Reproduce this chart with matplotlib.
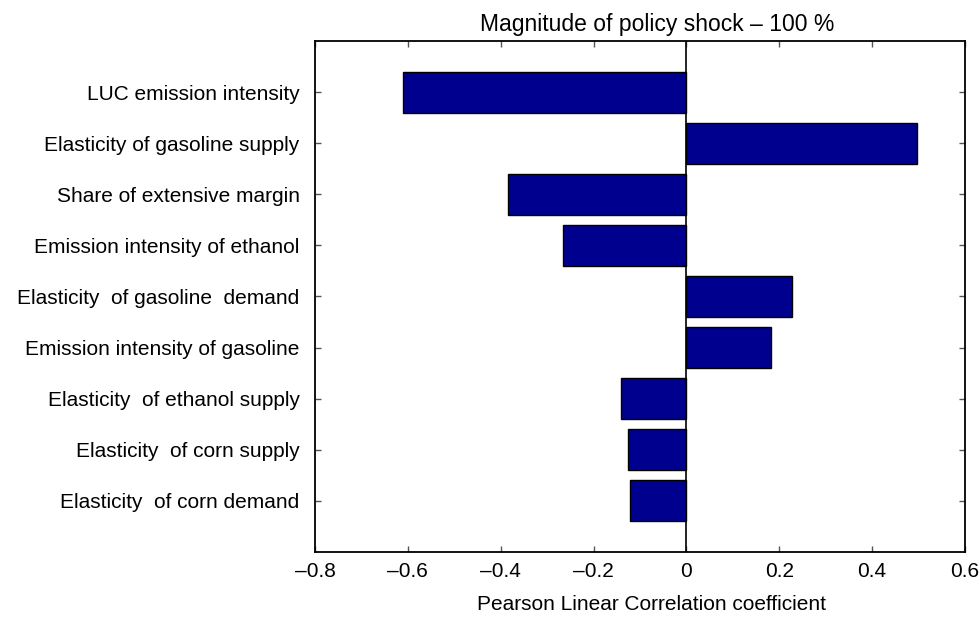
import numpy as np
import matplotlib
matplotlib.use("Agg")
import matplotlib.pyplot as plt

plt.rcParams["font.family"] = ["Liberation Sans", "DejaVu Sans"]

# Data (top to bottom as drawn)
labels = [
    "LUC emission intensity",
    "Elasticity of gasoline supply",
    "Share of extensive margin",
    "Emission intensity of ethanol",
    "Elasticity  of gasoline  demand",
    "Emission intensity of gasoline",
    "Elasticity  of ethanol supply",
    "Elasticity  of corn supply",
    "Elasticity  of corn demand",
]
corr = [-0.611, 0.497, -0.385, -0.265, 0.228, 0.183, -0.141, -0.126, -0.121]

xticks = [-0.8, -0.6, -0.4, -0.2, 0, 0.2, 0.4, 0.6]
xticklabels = ["\u20130.8", "\u20130.6", "\u20130.4", "\u20130.2", "0", "0.2", "0.4", "0.6"]

BAR_COLOR = "#00008F"

if __name__ == "__main__":
    fig = plt.figure(figsize=(9.8, 6.18), dpi=100)
    ax = fig.add_axes([0.3214, 0.1068, 0.6633, 0.8269])

    pos = np.arange(1, len(labels) + 1)
    ax.barh(pos, corr, height=0.8, color=BAR_COLOR, edgecolor="black", linewidth=1.0)
    ax.axvline(0, color="black", linewidth=1.2)

    ax.set_ylim(10, 0)
    ax.set_xlim(-0.8, 0.6)
    ax.set_yticks(pos)
    ax.set_yticklabels(labels, fontsize=15)
    ax.set_xticks(xticks)
    ax.set_xticklabels(xticklabels, fontsize=15)

    ax.tick_params(axis="both", direction="in", length=4, width=1, color="#555555",
                   top=True, right=True)
    ax.tick_params(axis="y", pad=11)
    ax.tick_params(axis="x", pad=7)
    for s in ax.spines.values():
        s.set_linewidth(1.3)

    ax.set_xlabel("Pearson Linear Correlation coefficient", fontsize=15, labelpad=11)
    ax.xaxis.set_label_coords(0.518, -0.085)
    ax.set_title("Magnitude of policy shock \u2013 100 %", fontsize=16.5, x=0.526, pad=7)

    plt.savefig("out.png", dpi=100)
